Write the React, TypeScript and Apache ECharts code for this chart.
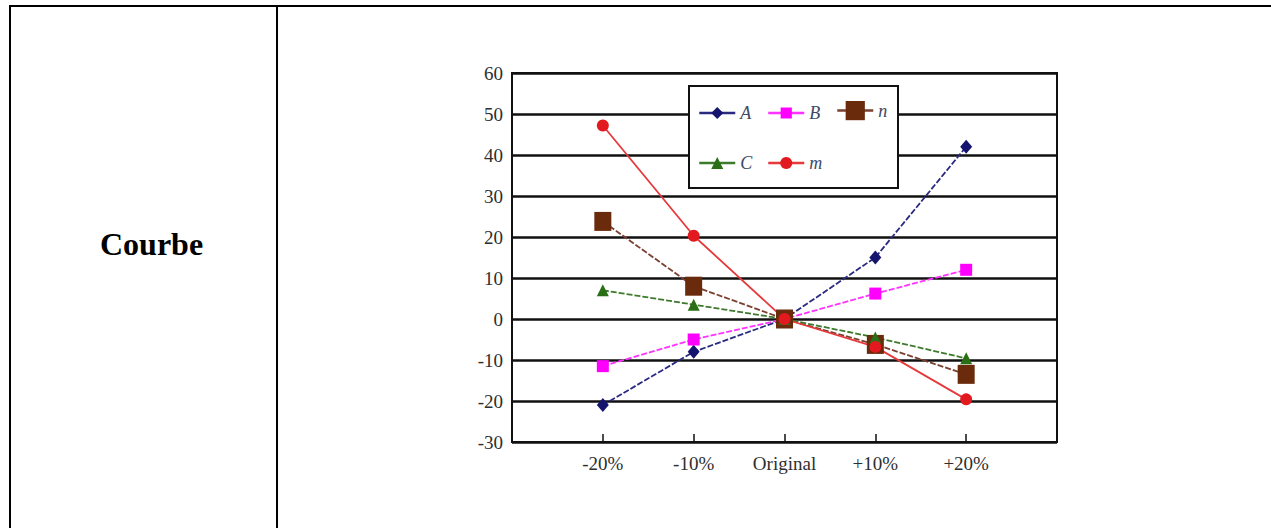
import React, { useEffect, useRef } from "react";
import * as echarts from "echarts";

const categories = ["-20%", "-10%", "Original", "+10%", "+20%"];
const yTicks = { min: -30, max: 60, step: 10 };
const seriesA = [-21, -8, 0, 15, 42];
const seriesB = [-11.5, -5, 0, 6.2, 12];
const seriesN = [23.8, 8, 0, -6.2, -13.5];
const seriesC = [7, 3.5, 0, -4.5, -9.6];
const seriesM = [47.2, 20.3, 0, -6.8, -19.6];

const pad = (arr: number[]) => [null, ...arr, null];

export default function App() {
  const ref = useRef<HTMLDivElement>(null);
  useEffect(() => {
    document.body.style.overflow = "hidden";
    const chart = echarts.init(ref.current!, null, { renderer: "svg" });
    const labelFont = { fontFamily: "Liberation Serif", fontSize: 19, color: "#2e2e2e" };
    const mk = (name: string, data: number[], color: string, lineColor: string, symbol: string, size: number | number[], dashed: boolean) => ({
      name,
      type: "line",
      data: pad(data),
      symbol,
      symbolSize: size,
      showSymbol: true,
      itemStyle: { color },
      lineStyle: { color: lineColor, width: 1.8, type: dashed ? [6, 2] : "solid" },
      z: 3,
    });
    const TEXT_H = 18;
    const legendText = {
      fontFamily: "Liberation Serif",
      fontStyle: "italic",
      fontSize: 18,
      lineHeight: TEXT_H,
      color: "#3d4a66",
    };
    const leg = (name: string, left: number, cy: number, h: number) => ({
      data: [name],
      left,
      top: cy - Math.max(h, TEXT_H) / 2,
      padding: 0,
      itemWidth: 36,
      itemHeight: h,
      itemGap: 0,
      textStyle: legendText,
      lineStyle: { type: "solid", width: 2.5 },
      z: 5,
    });
    chart.setOption({
      animation: false,
      grid: {
        left: 512,
        right: 214,
        top: 73,
        bottom: 86,
        show: true,
        borderColor: "#111",
        borderWidth: 2,
      },
      xAxis: {
        type: "category",
        data: ["", ...categories, ""],
        boundaryGap: false,
        axisLine: { onZero: false, lineStyle: { color: "#111", width: 2 } },
        axisTick: {
          show: true,
          inside: true,
          length: 8,
          lineStyle: { color: "#111", width: 1.5 },
          interval: (i: number) => i > 0 && i <= categories.length,
        },
        axisLabel: { ...labelFont, margin: 12, interval: 0 },
        splitLine: { show: false },
      },
      yAxis: {
        type: "value",
        min: yTicks.min,
        max: yTicks.max,
        interval: yTicks.step,
        axisLine: { show: true, lineStyle: { color: "#111", width: 2 } },
        axisTick: { show: false },
        axisLabel: { ...labelFont, margin: 9 },
        splitLine: { lineStyle: { color: "#111", width: 2.5 } },
      },
      legend: [
        leg("A", 698, 113, 15),
        leg("B", 767, 113, 14),
        leg("n", 836, 113, 24),
        leg("C", 698, 163, 15),
        leg("m", 767, 163, 15),
      ],
      graphic: [
        {
          type: "rect",
          shape: { x: 689, y: 86, width: 209, height: 102 },
          style: { fill: "#fff", stroke: "#111", lineWidth: 2 },
          z: 4,
        },
      ],
      series: [
        mk("A", seriesA, "#14146e", "#2a2a80", "diamond", [12, 14], true),
        mk("B", seriesB, "#ff00ff", "#ff33ff", "rect", 12, true),
        mk("n", seriesN, "#6a2a0c", "#7a4030", "rect", [17, 19], true),
        mk("C", seriesC, "#2a6e16", "#3d7a2c", "triangle", 12, true),
        mk("m", seriesM, "#e21a1f", "#e6393c", "circle", 12, false),
      ],
    });
    return () => chart.dispose();
  }, []);

  return (
    <div>
      <div
        style={{
          position: "absolute",
          left: 9,
          top: 5,
          width: 1262,
          height: 523,
          borderTop: "2px solid #000",
          borderLeft: "2px solid #000",
          boxSizing: "border-box",
        }}
      />
      <div style={{ position: "absolute", left: 276, top: 5, width: 2, height: 523, background: "#000" }} />
      <div
        style={{
          position: "absolute",
          left: 100,
          top: 228,
          fontFamily: "Liberation Serif",
          fontWeight: "bold",
          fontSize: 32,
          lineHeight: "32px",
          whiteSpace: "nowrap",
          color: "#000",
        }}
      >
        Courbe
      </div>
      <div ref={ref} style={{ position: "absolute", left: 0, top: 0, width: 1271, height: 528 }} />
    </div>
  );
}
